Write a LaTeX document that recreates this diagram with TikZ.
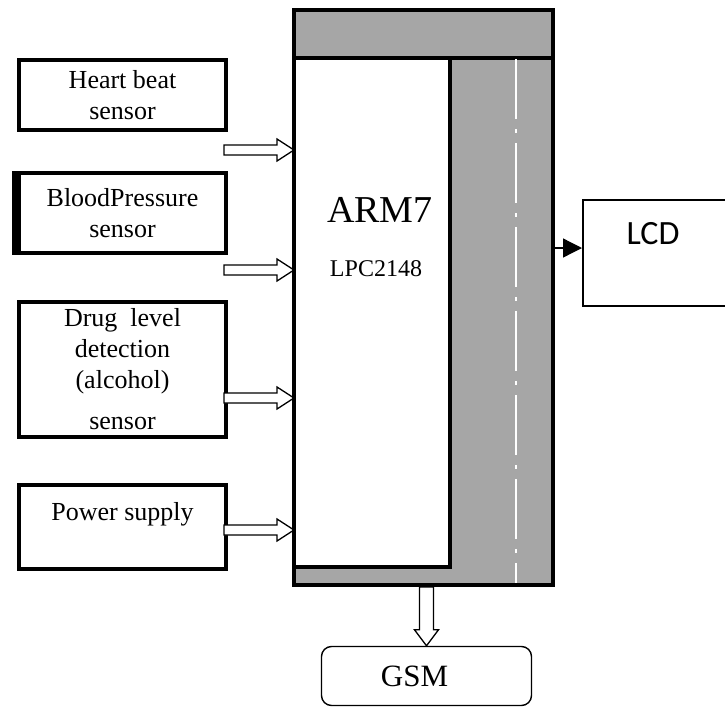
\documentclass[tikz,border=0pt]{standalone}
\usepackage{fontspec}
\setmainfont{Liberation Serif}
\newfontfamily\lcdfont{Carlito}
\usepackage{tikz}
\usetikzlibrary{positioning,arrows.meta,calc}
\tikzset{
  sensor/.style={draw,line width=2pt,minimum width=103.5pt,align=center,
                 font=\fontsize{13}{15.5}\selectfont,fill=white},
  armbox/.style={fill=black!35,minimum width=129.5pt,minimum height=287.5pt,
                 inner sep=0pt,outer sep=0pt},
  armline/.style={line width=2pt},
  coreline/.style={line width=1.75pt},
  lcdbox/.style={draw,line width=1.2pt,minimum width=78.4pt,minimum height=52.8pt},
  gsmbox/.style={draw,line width=0.7pt,rounded corners=5pt,minimum width=105pt,
                 minimum height=29.5pt,font=\fontsize{15.5}{18}\selectfont},
  hollow/.style={draw,line width=0.65pt,fill=white,line join=miter},
  lcdarrow/.style={-{Triangle[length=9.5pt,width=9.5pt]},line width=0.65pt},
}
% block arrows: tail, tip
\newcommand{\hollowright}[2]{%
  \path[hollow] ($(#1)+(0,-5)$) -- ($(#2)+(-17,-5)$) -- ($(#2)+(-17,-11)$) -- (#2)
    -- ($(#2)+(-17,11)$) -- ($(#2)+(-17,5)$) -- ($(#1)+(0,5)$) -- cycle;}
\newcommand{\hollowdown}[2]{%
  \path[hollow] ($(#1)+(-7,0)$) -- ($(#2)+(-7,-16)$) -- ($(#2)+(-12,-16)$) -- (#2)
    -- ($(#2)+(12,-16)$) -- ($(#2)+(7,-16)$) -- ($(#1)+(7,0)$) -- cycle;}

\begin{document}
\begin{tikzpicture}[x=0.5pt,y=-0.5pt]
  \useasboundingbox (0,0) rectangle (725,708);

  % sensors on the left
  \node[sensor,minimum height=35pt] (heart) at (122.5,95) {Heart beat\\sensor};
  \node[sensor,minimum height=40pt,below=19.5pt of heart] (bp) {BloodPressure\\sensor};
  \draw[line width=4pt] ($(bp.north west)+(-1,0)$) -- ($(bp.south west)+(-1,0)$);
  \node[sensor,minimum height=67pt,below=22.5pt of bp] (drug)
        {Drug\ \ level\\detection\\(alcohol)\\[5pt]sensor};
  \node[sensor,minimum height=42pt,below=22pt of drug] (power) {Power supply\\~};

  % controller block
  \node[armbox] (arm) at (423.5,297.5) {};
  \fill[white] (294,58) rectangle (450,567);
  \draw[coreline] (294,58) -- (553,58);
  \draw[coreline] (450,58) -- (450,567) -- (294,567);
  \draw[white,line width=0.6pt,dash pattern=on 30pt off 5pt on 2pt off 5pt] (516,59) -- (516,585);
  \node[font=\fontsize{19}{23}\selectfont] (armname) at (380,210) {ARM7};
  \node[font=\fontsize{12}{14}\selectfont] (armpart) at (376,269) {LPC2148};

  % inputs
  \coordinate (heartout) at (224,150);
  \coordinate (bpout) at (224,270);
  \coordinate (drugout) at (224,398);
  \coordinate (powerout) at (224,530);
  \foreach \s in {heart,bp,drug,power} {
    \coordinate (\s in) at (arm.west |- \s out);
    \hollowright{\s out}{\s in}
  }

  % outputs
  \node[lcdbox] (lcd) at (661.6,253) {};
  \node[font=\lcdfont\fontsize{17}{20}\selectfont] (lcdname) at (653,234) {LCD};
  \coordinate (lcdin) at ($(lcd.west)+(0,-5)$);
  \draw[lcdarrow] (arm.east |- lcdin) -- (lcdin);

  \node[gsmbox] (gsm) at (426.5,676) {GSM\hspace*{12pt}};
  \coordinate (gsmtop) at (gsm.north |- arm.south);
  \coordinate (gsmout) at ($(gsmtop)+(0,2)$);
  \hollowdown{gsmout}{gsm.north}

  \draw[armline] (arm.north west) rectangle (arm.south east);
\end{tikzpicture}
\end{document}
